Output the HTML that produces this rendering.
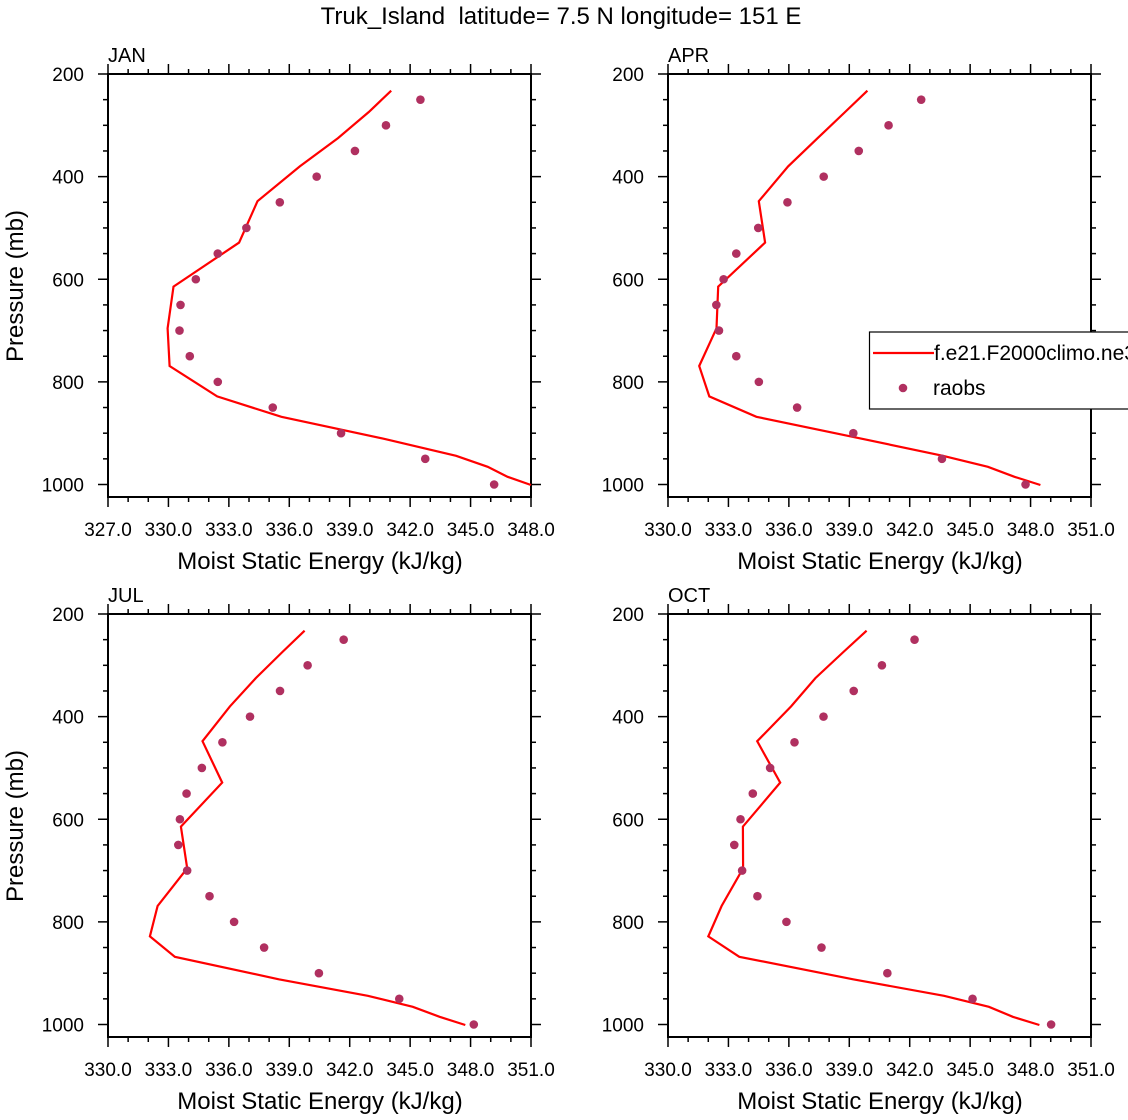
<!DOCTYPE html>
<html><head><meta charset="utf-8"><style>
html,body{margin:0;padding:0;background:#fff;}
svg{display:block;font-family:"Liberation Sans",Arial,sans-serif;}
</style></head><body>
<svg id="chart" width="1128" height="1120" viewBox="0 0 1128 1120" xmlns="http://www.w3.org/2000/svg">
<rect width="1128" height="1120" fill="#fff"/>
<text x="561" y="24" font-size="24" text-anchor="middle" style="white-space:pre">Truk_Island  latitude= 7.5 N longitude= 151 E</text>
</svg>
<script>
const modelLevels=[232.5,274,325,380,447.8,528.5,614.3,695.6,769,828.3,868,912,944,965.5,985,1001];
const obsLevels=[250,300,350,400,450,500,550,600,650,700,750,800,850,900,950,1000];
const janModel=[341.06,339.95,338.42,336.52,334.42,333.51,330.25,329.96,330.06,332.42,335.61,340.81,344.28,345.85,346.84,348.0];
const janObs=[342.51,340.80,339.26,337.36,335.53,333.87,332.45,331.36,330.60,330.55,331.06,332.45,335.18,338.57,342.75,346.17];
const aprModel=[339.90,338.79,337.43,335.96,334.51,334.82,332.49,332.41,331.55,332.05,334.39,339.76,343.65,345.88,347.2,348.49];
const aprObs=[342.57,340.95,339.47,337.73,335.93,334.48,333.39,332.76,332.40,332.53,333.39,334.51,336.41,339.20,343.60,347.75];
const julModel=[339.76,338.66,337.34,336.05,334.69,335.67,333.62,333.93,332.46,332.08,333.32,338.48,342.90,345.13,346.46,347.74];
const julObs=[341.70,339.91,338.54,337.05,335.68,334.66,333.90,333.57,333.49,333.93,335.04,336.26,337.75,340.47,344.46,348.16];
const octModel=[339.86,338.71,337.32,336.11,334.43,335.57,333.72,333.73,332.66,332.00,333.54,339.19,343.70,345.93,347.12,348.44];
const octObs=[342.24,340.62,339.22,337.72,336.28,335.07,334.21,333.60,333.29,333.68,334.44,335.88,337.62,340.89,345.12,349.02];
const janTicks=["327.0","330.0","333.0","336.0","339.0","342.0","345.0","348.0"];
const otherTicks=["330.0","333.0","336.0","339.0","342.0","345.0","348.0","351.0"];
const pTicks=[200,400,600,800,1000];

const NS="http://www.w3.org/2000/svg";
const svg=document.getElementById('chart');
function mk(tag,attrs,parent){const e=document.createElementNS(NS,tag);for(const k in attrs)e.setAttribute(k,attrs[k]);(parent||svg).appendChild(e);return e;}

const panels=[
 {name:'jan',label:'JAN',x0:108,y0:74,xmin:327,model:janModel,obs:janObs,ticks:janTicks,ylab:true},
 {name:'apr',label:'APR',x0:668,y0:74,xmin:330,model:aprModel,obs:aprObs,ticks:otherTicks,ylab:false},
 {name:'jul',label:'JUL',x0:108,y0:614,xmin:330,model:julModel,obs:julObs,ticks:otherTicks,ylab:true},
 {name:'oct',label:'OCT',x0:668,y0:614,xmin:330,model:octModel,obs:octObs,ticks:otherTicks,ylab:false}
];
const W=423,H=423;
panels.forEach(P=>{
 const g=mk('g',{});
 
 
 const xs=v=>P.x0+(v-P.xmin)*W/21;
 const ys=p=>P.y0+(p-200)*410.5/800;
 const frame=mk('rect',{x:P.x0,y:P.y0,width:W,height:H,fill:'none',stroke:'#000','stroke-width':2},g);
 
 
 for(let i=0;i<=21;i++){
  const x=xs(P.xmin+i);const major=i%3===0;const L=major?10:5;
  mk('line',{x1:x,x2:x,y1:P.y0,y2:P.y0-L,stroke:'#000','stroke-width':1.5},g);
  mk('line',{x1:x,x2:x,y1:P.y0+H,y2:P.y0+H+L,stroke:'#000','stroke-width':1.5},g);
 }
 P.ticks.forEach((t,i)=>{
  const tx=mk('text',{x:xs(P.xmin+i*3),y:P.y0+H+39,'font-size':19,'text-anchor':'middle'},g);
  tx.textContent=t;
  
  
 });
 for(let p=200;p<=1000;p+=50){
  const y=ys(p);const major=p%200===0;const L=major?10:5;
  mk('line',{x1:P.x0,x2:P.x0-L,y1:y,y2:y,stroke:'#000','stroke-width':1.5},g);
  mk('line',{x1:P.x0+W,x2:P.x0+W+L,y1:y,y2:y,stroke:'#000','stroke-width':1.5},g);
 }
 pTicks.forEach(p=>{
  const tx=mk('text',{x:P.x0-24,y:ys(p)+7,'font-size':19,'text-anchor':'end'},g);
  tx.textContent=p;
  
  
 });
 const xt=mk('text',{x:P.x0+212,y:P.y0+H+72,'font-size':24,'text-anchor':'middle'},g);
 xt.textContent='Moist Static Energy (kJ/kg)';
 
 
 if(P.ylab){
  const yt=mk('text',{x:0,y:0,'font-size':24,'text-anchor':'middle',transform:`translate(23,${P.y0+212}) rotate(-90)`},g);
  yt.textContent='Pressure (mb)';
  
  
 }
 const pl=mk('text',{x:P.x0,y:P.y0-12,'font-size':20},g);
 pl.textContent=P.label;
 
 
 const pts=P.model.map((v,i)=>xs(v).toFixed(1)+','+ys(modelLevels[i]).toFixed(1)).join(' ');
 const line=mk('polyline',{points:pts,fill:'none',stroke:'#ff0000','stroke-width':2.2,'stroke-linejoin':'miter'},g);
 
 
 P.obs.forEach((v,i)=>{
  const c=mk('circle',{cx:xs(v),cy:ys(obsLevels[i]),r:4.3,fill:'#b03060'},g);
  
  
 });
});
const lg=mk('g',{});


mk('rect',{x:869.5,y:332,width:270,height:77,fill:'#fff',stroke:'#000','stroke-width':1.2},lg);
mk('line',{x1:873,x2:934,y1:353,y2:353,stroke:'#ff0000','stroke-width':2.2},lg);
const l1=mk('text',{x:934,y:360,'font-size':21},lg);
l1.textContent='f.e21.F2000climo.ne30';


mk('circle',{cx:903,cy:388,r:4.3,fill:'#b03060'},lg);
const l2=mk('text',{x:933,y:395,'font-size':21},lg);
l2.textContent='raobs';


</script>
</body></html>
